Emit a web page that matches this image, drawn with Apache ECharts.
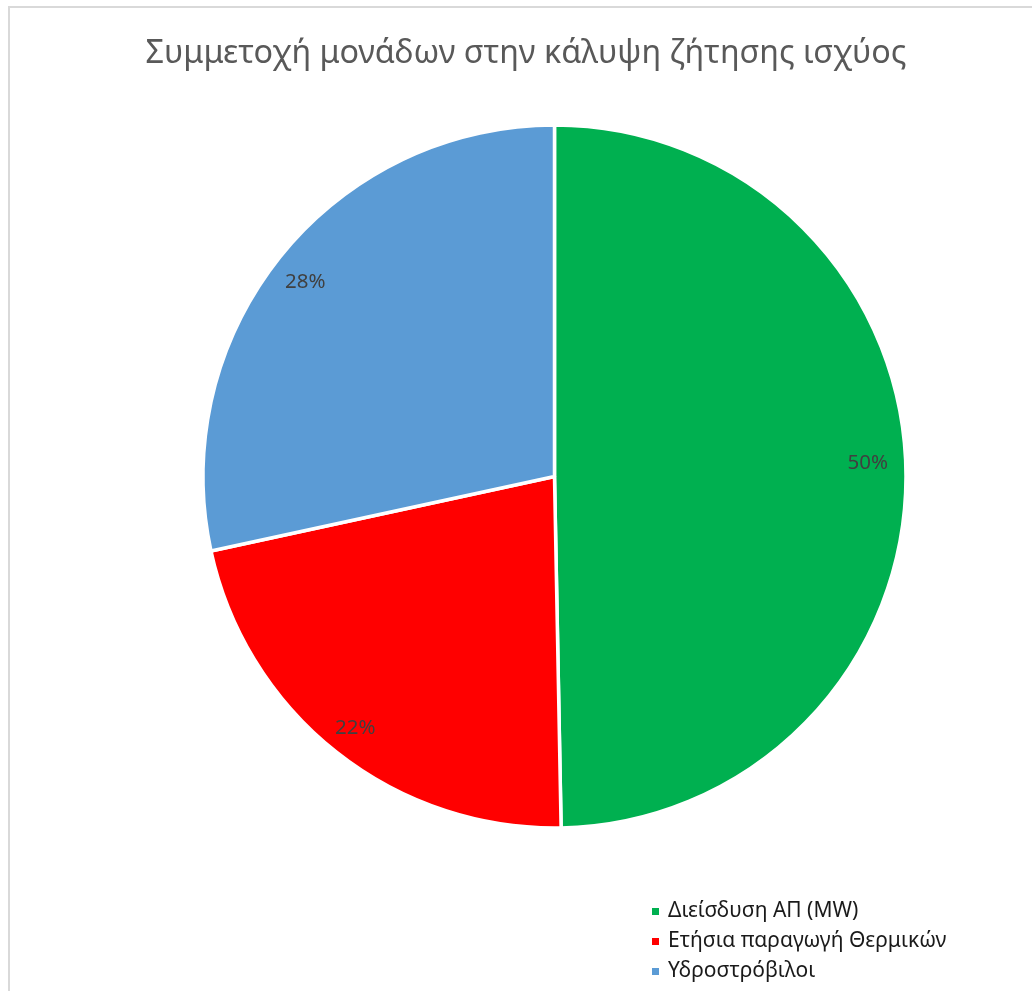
<!DOCTYPE html>
<html>
<head>
<meta charset="utf-8">
<script src="https://cdn.jsdelivr.net/npm/echarts@6/dist/echarts.min.js"></script>
<style>
  html, body { margin: 0; padding: 0; background: #ffffff; }
  #chart { width: 1032px; height: 991px; }
</style>
</head>
<body>
<div id="chart"></div>
<script>
// Share of each unit type in covering power demand (%)
const titleText = 'Συμμετοχή μονάδων στην κάλυψη ζήτησης ισχύος';
const categories = ['Διείσδυση ΑΠ (MW)', 'Ετήσια παραγωγή Θερμικών', 'Υδροστρόβιλοι'];
const shares = [49.7, 21.9, 28.4];
const colors = ['#00B050', '#FF0000', '#5B9BD5'];

const FONT = '"Noto Sans", "DejaVu Sans", sans-serif';
const CX = 554.5, CY = 476.5, R = 351.5;

// Mid-angle of each slice, measured clockwise from 12 o'clock
const total = shares.reduce((a, b) => a + b, 0);
const midAngles = [];
let acc = 0;
shares.forEach(v => {
  midAngles.push(((acc + v / 2) / total) * 2 * Math.PI);
  acc += v;
});

const chart = echarts.init(document.getElementById('chart'), null, { renderer: 'canvas' });

chart.setOption({
  backgroundColor: '#ffffff',
  animation: false,
  title: {
    text: titleText,
    left: 521,
    top: 33,
    textAlign: 'center',
    textStyle: { fontFamily: FONT, fontSize: 32.3, fontWeight: 'normal', color: '#595959' }
  },
  legend: {
    orient: 'vertical',
    left: 650,
    top: 901,
    padding: 0,
    icon: 'rect',
    itemWidth: 9,
    itemHeight: 9,
    itemGap: 9,
    textStyle: { fontFamily: FONT, fontSize: 21, color: '#1a1a1a', padding: [0, 0, 0, 3] },
    data: categories
  },
  graphic: [{
    type: 'rect',
    shape: { x: 9, y: 7, width: 1200, height: 1200 },
    style: { fill: 'none', stroke: '#d9d9d9', lineWidth: 2 },
    silent: true,
    z: -1
  }],
  series: [{
    type: 'pie',
    center: [CX, CY],
    radius: [0, R],
    startAngle: 90,
    clockwise: true,
    percentPrecision: 0,
    itemStyle: { borderColor: '#ffffff', borderWidth: 3.5 },
    label: {
      show: true,
      position: 'inside',
      formatter: '{d}%',
      fontFamily: FONT,
      fontSize: 20.5,
      color: '#404040'
    },
    labelLayout: function (p) {
      const a = midAngles[p.dataIndex];
      const k = 0.9;
      return {
        x: CX + R * k * Math.sin(a) - 3,
        y: CY - R * k * Math.cos(a) + (p.dataIndex === 0 ? -10 : 4),
        align: 'center',
        verticalAlign: 'middle'
      };
    },
    labelLine: { show: false },
    emphasis: { disabled: true },
    data: categories.map((name, i) => ({
      name: name,
      value: shares[i],
      itemStyle: { color: colors[i] }
    }))
  }]
});
</script>
</body>
</html>
